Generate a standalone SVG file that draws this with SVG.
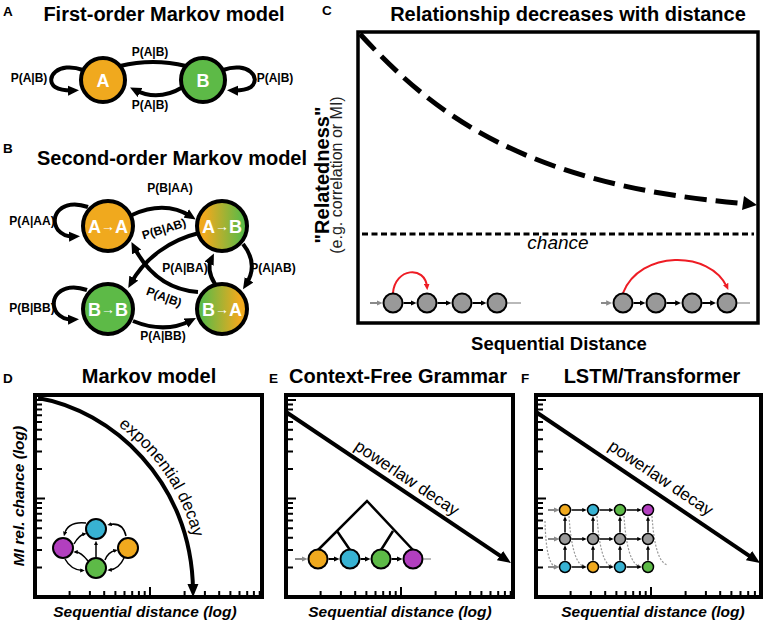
<svg xmlns="http://www.w3.org/2000/svg" width="767" height="623" viewBox="0 0 767 623">
<style>
text{font-family:"Liberation Sans",Arial,Helvetica,sans-serif}
.title{font-size:20px;font-weight:bold;text-anchor:middle}
.lab{font-size:13.5px;font-weight:bold}
.p{font-size:12px;font-weight:bold;text-anchor:middle}
.nt{font-size:18px;font-weight:bold;fill:#fff;text-anchor:middle}
.ax{font-size:15.5px;font-weight:bold;font-style:italic;text-anchor:middle}
.dec{font-size:17px}
.th{fill:none;stroke:#000;stroke-width:4}
.box{fill:none;stroke:#000;stroke-width:4}
.tk{fill:none;stroke:#000;stroke-width:2}
.sa{fill:none;stroke:#000;stroke-width:2}
.ta{fill:none;stroke:#000;stroke-width:1.5}
.ga{fill:none;stroke:#8a8a8a;stroke-width:2}
.dot{fill:none;stroke:#999;stroke-width:1.2;stroke-dasharray:2 1.6}
.n{stroke:#000;stroke-width:4}
.sn{stroke:#000;stroke-width:2}
.tn{stroke:#000;stroke-width:1.5}
.or{fill:#F0A91E}.gr{fill:#5DBA47}.cy{fill:#38B2D2}.mg{fill:#B23FBF}.gy{fill:#999}
</style>
<defs>
<marker id="ah" viewBox="0 0 10 10" refX="5" refY="5" markerWidth="2.8" markerHeight="2.8" orient="auto" markerUnits="strokeWidth"><path d="M0,0.5 L10,5 L0,9.5 z" fill="#000"/></marker>
<marker id="ab" viewBox="0 0 10 10" refX="5" refY="5" markerWidth="3.3" markerHeight="3.3" orient="auto" markerUnits="strokeWidth"><path d="M0,0.8 L10,5 L0,9.2 z" fill="#000"/></marker>
<marker id="sm" viewBox="0 0 10 10" refX="5" refY="5" markerWidth="3" markerHeight="3" orient="auto" markerUnits="strokeWidth"><path d="M0,0.5 L10,5 L0,9.5 z" fill="#000"/></marker>
<marker id="sg" viewBox="0 0 10 10" refX="5" refY="5" markerWidth="3" markerHeight="3" orient="auto" markerUnits="strokeWidth"><path d="M0,0.5 L10,5 L0,9.5 z" fill="#8a8a8a"/></marker>
<marker id="sd" viewBox="0 0 10 10" refX="5" refY="5" markerWidth="4" markerHeight="4" orient="auto" markerUnits="strokeWidth"><path d="M0,0.5 L10,5 L0,9.5 z" fill="#999"/></marker>
<marker id="sr" viewBox="0 0 10 10" refX="5" refY="5" markerWidth="3.2" markerHeight="3.2" orient="auto" markerUnits="strokeWidth"><path d="M0,0.5 L10,5 L0,9.5 z" fill="#EE1C24"/></marker>
<linearGradient id="gAB" x1="0" y1="0" x2="1" y2="0"><stop offset="0.15" stop-color="#F0A91E"/><stop offset="0.9" stop-color="#5DBA47"/></linearGradient>
<linearGradient id="gBA" x1="0" y1="0" x2="1" y2="0"><stop offset="0.1" stop-color="#5DBA47"/><stop offset="0.85" stop-color="#F0A91E"/></linearGradient>
<path id="ytk" d="M0,567.4h7M0,550h7M0,537.7h7M0,528.2h7M0,520.4h7M0,513.8h7M0,508.1h7M0,503h7M0,498.5h10M0,468.9h7M0,451.5h7M0,439.2h7M0,429.7h7M0,421.9h7M0,415.3h7M0,409.6h7M0,404.5h7M0,400h10" class="tk"/>
<path id="xtk" d="M34.6,0v-6M54.9,0v-6M69.2,0v-6M80.4,0v-6M89.5,0v-6M97.2,0v-6M103.9,0v-6M109.7,0v-6M115,0v-10M149.6,0v-6M169.9,0v-6M184.2,0v-6M195.4,0v-6M204.5,0v-6M212.2,0v-6M218.9,0v-6M224.7,0v-6" class="tk"/>
<path id="expPath" d="M40,392 C 114,404 199,474 200,590"/>
</defs>

<!-- Panel labels and titles -->
<g id="labels">
<text class="lab" x="3" y="16">A</text>
<text class="title" x="164" y="21">First-order Markov model</text>
<text class="lab" x="3" y="153">B</text>
<text class="title" x="172" y="165">Second-order Markov model</text>
<text class="lab" x="322" y="15">C</text>
<text class="title" x="568" y="21">Relationship decreases with distance</text>
<text class="lab" x="3" y="383">D</text>
<text class="title" x="149" y="383">Markov model</text>
<text class="lab" x="269" y="383">E</text>
<text class="title" x="398" y="383">Context-Free Grammar</text>
<text class="lab" x="521" y="383">F</text>
<text class="title" x="652" y="383">LSTM/Transformer</text>
</g>

<!-- Connectors -->
<g id="connectors">
<!-- A -->
<path class="th" d="M120,66 Q153,58 186,66"/>
<path class="th" d="M183,87 Q158,102 135,90" marker-end="url(#ah)"/>
<path class="th" d="M83,70 C 58,61 44,78 55,87 Q62,91 73.5,90.5" marker-end="url(#ah)"/>
<path class="th" d="M223,70 C 248,61 262,78 251,87 Q244,91 232.5,90.5" marker-end="url(#ah)"/>
<!-- B -->
<path class="th" d="M88,207 C 62,198 48,216 58,230 Q64,237 74.5,236.5" marker-end="url(#ah)"/>
<path class="th" d="M87,290 C 61,281 47,299 57,313 Q63,320 73.5,319.5" marker-end="url(#ah)"/>
<path class="th" d="M132,215 Q165,200 191,216.5" marker-end="url(#ah)"/>
<path class="th" d="M133,321 Q165,334 191,320.5" marker-end="url(#ah)"/>
<path class="th" d="M199,233 C 170,240 145,258 131,283" marker-end="url(#ah)"/>
<path class="th" d="M198,292 C 170,290 148,274 134,247" marker-end="url(#ah)"/>
<path class="th" d="M215,284 Q206,270 211.5,258.5" marker-end="url(#ah)"/>
<path class="th" d="M243,244 Q259,264 246,284.5" marker-end="url(#ah)"/>
<!-- C -->
<path d="M360,34 C 430,110 520,185 744,203.5" fill="none" stroke="#000" stroke-width="5" stroke-dasharray="22 9"/>
<polygon points="757,205 744,196 742,210" fill="#000"/>
<path d="M362,234 H754" fill="none" stroke="#000" stroke-width="3" stroke-dasharray="6 3.5"/>
<path class="ga" d="M370,303 H379.5" marker-end="url(#sg)"/>
<path class="sa" d="M403.5,303 H413.5" marker-end="url(#sm)"/>
<path class="sa" d="M437.5,303 H448.5" marker-end="url(#sm)"/>
<path class="sa" d="M472.5,303 H483.5" marker-end="url(#sm)"/>
<path class="ga" d="M507.5,303 H521" stroke-opacity="0.6"/>
<path class="ga" d="M601,303 H609.2" marker-end="url(#sg)"/>
<path class="sa" d="M633.5,303 H642.5" marker-end="url(#sm)"/>
<path class="sa" d="M666.5,303 H678.2" marker-end="url(#sm)"/>
<path class="sa" d="M702.2,303 H713.2" marker-end="url(#sm)"/>
<path class="ga" d="M737.5,303 H750" stroke-opacity="0.6"/>
<path d="M393,293 C 395,268 425,265 427,287" fill="none" stroke="#EE1C24" stroke-width="2" marker-end="url(#sr)"/>
<path d="M623,293 C 640,250 710,250 727,287" fill="none" stroke="#EE1C24" stroke-width="2" marker-end="url(#sr)"/>
<!-- D -->
<path class="th" d="M38,398 C 110,410 192,480 193,590.5" marker-end="url(#ab)"/>
<path class="ta" d="M86,523 Q68,521 64.5,534" marker-end="url(#sm)"/>
<path class="ta" d="M74,544 Q79,535 84.5,534" marker-end="url(#sm)"/>
<path class="ta" d="M126,536 Q123,522 109.5,524.5" marker-end="url(#sm)"/>
<path class="ta" d="M124,558 Q119,569 109.5,570" marker-end="url(#sm)"/>
<path class="ta" d="M105,560 Q108,552 115.5,550.5" marker-end="url(#sm)"/>
<path class="ta" d="M65,559 Q71,570 82.5,570.5" marker-end="url(#sm)"/>
<path class="ta" d="M88,561 Q81,552 75.5,552" marker-end="url(#sm)"/>
<path class="ta" d="M96,557 V543" marker-end="url(#sm)"/>
<!-- E -->
<path class="th" d="M286,412 L505.5,559.3" marker-end="url(#ab)"/>
<path fill="none" stroke="#000" stroke-width="2.5" d="M318,550 L367,501 L413,550 M337,531 L350,550 M393,531 L381,550"/>
<path class="ga" d="M295,559 H304.5" marker-end="url(#sg)"/>
<path class="sa" d="M328.5,559 H336.5" marker-end="url(#sm)"/>
<path class="sa" d="M360.5,559 H367.5" marker-end="url(#sm)"/>
<path class="sa" d="M391.5,559 H399.5" marker-end="url(#sm)"/>
<path class="ga" d="M423.5,559 H431" stroke-opacity="0.6"/>
<!-- F -->
<path class="th" d="M536,412 L754.5,559.3" marker-end="url(#ab)"/>
<path class="dot" d="M545,521 Q546,565 556,567" marker-end="url(#sd)"/>
<path class="dot" d="M569,516 Q572,563 584,566.5" marker-end="url(#sd)"/>
<path class="dot" d="M597,516 Q600,563 611.5,566.5" marker-end="url(#sd)"/>
<path class="dot" d="M624,516 Q627,563 639.5,566.5" marker-end="url(#sd)"/>
<path class="dot" d="M652,516 Q655,563 668,565"/>
<path class="ga" stroke-width="1.5" d="M548,510 H556.5" marker-end="url(#sg)"/>
<path class="ga" stroke-width="1.5" d="M548,539 H556.5" marker-end="url(#sg)"/>
<path class="ga" stroke-width="1.5" d="M548,567 H556.5" marker-end="url(#sg)"/>
<path class="ta" d="M571.5,510 H584.5" marker-end="url(#sm)"/>
<path class="ta" d="M599.5,510 H611.5" marker-end="url(#sm)"/>
<path class="ta" d="M626.5,510 H639.5" marker-end="url(#sm)"/>
<path class="ta" d="M571.5,539 H584.5" marker-end="url(#sm)"/>
<path class="ta" d="M599.5,539 H611.5" marker-end="url(#sm)"/>
<path class="ta" d="M626.5,539 H639.5" marker-end="url(#sm)"/>
<path class="ta" d="M571.5,567 H584.5" marker-end="url(#sm)"/>
<path class="ta" d="M599.5,567 H611.5" marker-end="url(#sm)"/>
<path class="ta" d="M626.5,567 H639.5" marker-end="url(#sm)"/>
<path class="ta" d="M565,560.5 V547.5" marker-end="url(#sm)"/>
<path class="ta" d="M593,560.5 V547.5" marker-end="url(#sm)"/>
<path class="ta" d="M620,560.5 V547.5" marker-end="url(#sm)"/>
<path class="ta" d="M648,560.5 V547.5" marker-end="url(#sm)"/>
<path class="ta" d="M565,532.5 V518.5" marker-end="url(#sm)"/>
<path class="ta" d="M593,532.5 V518.5" marker-end="url(#sm)"/>
<path class="ta" d="M620,532.5 V518.5" marker-end="url(#sm)"/>
<path class="ta" d="M648,532.5 V518.5" marker-end="url(#sm)"/>
</g>

<!-- Edge labels -->
<g id="edge-labels">
<text class="p" x="150" y="56">P(A|B)</text>
<text class="p" x="150" y="109">P(A|B)</text>
<text class="p" x="29" y="82">P(A|B)</text>
<text class="p" x="275" y="82">P(A|B)</text>
<text class="p" x="170" y="192">P(B|AA)</text>
<text class="p" x="32" y="225">P(A|AA)</text>
<text class="p" x="164" y="233" transform="rotate(-17 164 229)">P(B|AB)</text>
<text class="p" x="185" y="272">P(A|BA)</text>
<text class="p" x="273" y="272">P(A|AB)</text>
<text class="p" x="164" y="301" transform="rotate(20 164 297)">P(A|B)</text>
<text class="p" x="32" y="312">P(B|BB)</text>
<text class="p" x="163" y="340">P(A|BB)</text>
</g>

<!-- Panel A nodes -->
<g id="nodeA"><circle class="n or" cx="103" cy="80" r="22"/><text class="nt" x="103" y="87" font-size="20">A</text></g>
<g id="nodeB"><circle class="n gr" cx="203" cy="80" r="22"/><text class="nt" x="203" y="87" font-size="20">B</text></g>

<!-- Panel B nodes -->
<g id="nodeAA"><circle class="n or" cx="108" cy="226" r="25"/><text class="nt" x="108" y="232.5">A<tspan font-size="14" dy="-1.5">→</tspan><tspan dy="1.5">A</tspan></text></g>
<g id="nodeAB"><circle class="n" fill="url(#gAB)" cx="222" cy="226" r="25"/><text class="nt" x="222" y="232.5">A<tspan font-size="14" dy="-1.5">→</tspan><tspan dy="1.5">B</tspan></text></g>
<g id="nodeBB"><circle class="n gr" cx="108" cy="309" r="25"/><text class="nt" x="108" y="315.5">B<tspan font-size="14" dy="-1.5">→</tspan><tspan dy="1.5">B</tspan></text></g>
<g id="nodeBA"><circle class="n" fill="url(#gBA)" cx="222" cy="309" r="25"/><text class="nt" x="222" y="315.5">B<tspan font-size="14" dy="-1.5">→</tspan><tspan dy="1.5">A</tspan></text></g>

<!-- Panel C -->
<g id="panelC">
<rect x="358" y="32" width="400" height="291" fill="none" stroke="#000" stroke-width="3.5"/>
<text x="329" y="175" transform="rotate(-90 329 175)" font-size="20" font-weight="bold" text-anchor="middle">"Relatedness"</text>
<text x="342" y="175" transform="rotate(-90 342 175)" font-size="16" text-anchor="middle" fill="#222">(e.g. correlation or MI)</text>
<text x="558" y="249" font-size="19" font-style="italic" text-anchor="middle">chance</text>
<text x="559" y="350" font-size="18.5" font-weight="bold" text-anchor="middle">Sequential Distance</text>
<g class="sn gy">
<circle cx="393" cy="303" r="9.5"/><circle cx="427" cy="303" r="9.5"/><circle cx="462" cy="303" r="9.5"/><circle cx="497" cy="303" r="9.5"/>
<circle cx="623" cy="303" r="9.5"/><circle cx="656" cy="303" r="9.5"/><circle cx="692" cy="303" r="9.5"/><circle cx="727" cy="303" r="9.5"/>
</g>
</g>

<!-- Panel D -->
<g id="panelD">
<rect class="box" x="35" y="395" width="227" height="202"/>
<use href="#ytk" transform="translate(35,0)"/>
<use href="#xtk" transform="translate(35,597)"/>
<text class="dec"><textPath href="#expPath" startOffset="86">exponential decay</textPath></text>
<text class="ax" x="23.5" y="496" transform="rotate(-90 23.5 496)">MI rel. chance (log)</text>
<text class="ax" x="145" y="617">Sequential distance (log)</text>
<g id="d-nodes" class="sn">
<circle class="cy" cx="96" cy="529" r="10"/>
<circle class="mg" cx="63" cy="548" r="10"/>
<circle class="or" cx="128" cy="548" r="10"/>
<circle class="gr" cx="96" cy="568" r="10"/>
</g>
</g>

<!-- Panel E -->
<g id="panelE">
<rect class="box" x="286" y="395" width="227" height="202"/>
<use href="#ytk" transform="translate(286,0)"/>
<use href="#xtk" transform="translate(286,597)"/>
<text class="dec" x="403.8" y="482.6" text-anchor="middle" transform="rotate(33.86 403.8 482.6)">powerlaw decay</text>
<text class="ax" x="400" y="617">Sequential distance (log)</text>
<g id="e-nodes" class="sn">
<circle class="or" cx="318" cy="559" r="9.5"/>
<circle class="cy" cx="350" cy="559" r="9.5"/>
<circle class="gr" cx="381" cy="559" r="9.5"/>
<circle class="mg" cx="413" cy="559" r="9.5"/>
</g>
</g>

<!-- Panel F -->
<g id="panelF">
<rect class="box" x="536" y="395" width="225" height="202"/>
<use href="#ytk" transform="translate(536,0)"/>
<use href="#xtk" transform="translate(536,597)"/>
<text class="dec" x="657.8" y="482.6" text-anchor="middle" transform="rotate(33.86 657.8 482.6)">powerlaw decay</text>
<text class="ax" x="653" y="617">Sequential distance (log)</text>
<g id="f-nodes" class="tn">
<circle class="or" cx="565" cy="510" r="5.5"/><circle class="cy" cx="593" cy="510" r="5.5"/><circle class="gr" cx="620" cy="510" r="5.5"/><circle class="mg" cx="648" cy="510" r="5.5"/>
<circle class="gy" cx="565" cy="539" r="5.5"/><circle class="gy" cx="593" cy="539" r="5.5"/><circle class="gy" cx="620" cy="539" r="5.5"/><circle class="gy" cx="648" cy="539" r="5.5"/>
<circle class="cy" cx="565" cy="567" r="5.5"/><circle class="or" cx="593" cy="567" r="5.5"/><circle class="cy" cx="620" cy="567" r="5.5"/><circle class="gr" cx="648" cy="567" r="5.5"/>
</g>
</g>
</svg>
